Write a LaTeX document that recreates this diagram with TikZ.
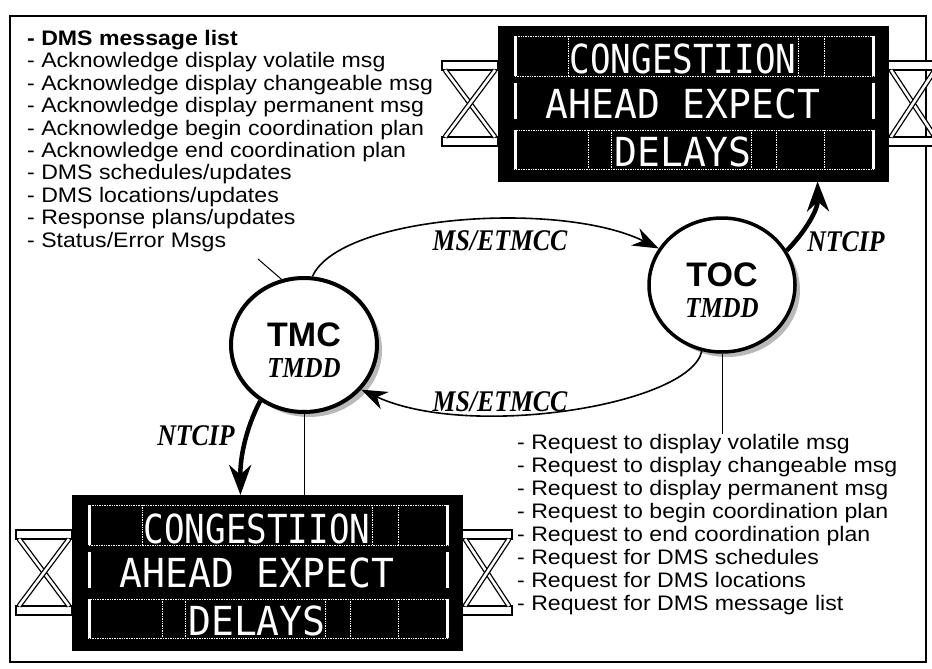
\documentclass[tikz,border=0pt]{standalone}
\usepackage{fontspec}
\setmainfont[FakeStretch=1.1]{Liberation Sans}
\newfontfamily\hubfont{Liberation Sans}
\newfontfamily\tagfont[FakeStretch=0.86]{Liberation Serif}
\newfontfamily\ledfont[FakeStretch=0.95]{DejaVu Sans Mono}
\usetikzlibrary{arrows.meta,shapes.geometric,shadows,positioning}

\tikzset{
  hub/.style={ellipse, draw, fill=white, minimum width=146pt, minimum height=134pt,
    inner sep=0pt, align=center, font=\hubfont\bfseries\fontsize{34}{31}\selectfont,
    drop shadow={shadow xshift=5pt, shadow yshift=-5pt, fill=gray!55, opacity=1}},
  link/.style={line width=1.6pt, -{Stealth[length=26pt,width=19pt]}},
  ntcip/.style={line width=4.5pt, -{Stealth[length=30pt,width=22pt]}},
  tag/.style={inner sep=0pt, font=\tagfont\bfseries\itshape\fontsize{30}{30}\selectfont},
  msglist/.style={anchor=north west, align=left, inner sep=0pt},
  board/.style={fill=black, draw=black, anchor=north west, minimum width=390pt,
    minimum height=155pt, inner sep=0pt},
  rail/.style={draw=black, fill=white, line width=1.2pt},
  truss/.style={line width=1.3pt, double=white, double distance=2.6pt},
  ledline/.style={white, line width=0.7pt, densely dotted},
  ledbar/.style={white, line width=3pt},
  led/.style={text=white, anchor=base, inner sep=0pt, font=\ledfont\fontsize{40}{40}\selectfont},
  pics/dmsboard/.style={code={
    % tralicci laterali
    \foreach \sx/\ex in {-56/0, 390/440} {
      \draw[rail] (\sx,35) rectangle (\ex,44);
      \draw[rail] (\sx,111) rectangle (\ex,120);
      \draw[truss] (\sx+3,44) -- (\ex-3,111);
      \draw[truss] (\sx+3,111) -- (\ex-3,44);
    }
    \node[board] (-board) at (0,0) {};
    % righe del pannello
    \foreach \ya/\yb in {10/50, 57/93, 104/143}
      \draw[ledbar] (17,\ya) -- (17,\yb) (375,\ya) -- (375,\yb);
    \draw[ledline] (16,10) rectangle (376,50);
    \draw[ledline] (16,104) rectangle (376,143);
    \foreach \dx in {70,300,326} \draw[ledline] (\dx,10) -- (\dx,50);
    \foreach \dx in {90,113,253,278,326} \draw[ledline] (\dx,104) -- (\dx,143);
    \node[led] (-row1) at (185,48) {\scalebox{0.9}[1]{CONGESTIION}};
    \node[led] (-row2) at (185,92) {AHEAD EXPECT};
    \node[led] (-row3) at (185,140) {DELAYS};
  }}
}

\begin{document}
\begin{tikzpicture}[x=1pt, y=-1pt]
\useasboundingbox (0,0) rectangle (932,669);
% cornice
\draw[line width=1.5pt] (10,16) rectangle (926,662);
% pannelli a messaggio variabile
\pic (topsign) at (498,26) {dmsboard};
\pic (botsign) at (72,495) {dmsboard};
% centri
\node[hub, line width=4pt] (tmc) at (304,345)
  {\rule{0pt}{34pt}TMC\\{\tagfont\bfseries\itshape\fontsize{29}{31}\selectfont TMDD}};
\node[hub, line width=3.5pt] (toc) at (722,285)
  {\rule{0pt}{34pt}TOC\\{\tagfont\bfseries\itshape\fontsize{29}{31}\selectfont TMDD}};
% elenchi dei messaggi
\node[msglist, font=\fontsize{21}{22.4}\selectfont] (acklist) at (27,30)
  {\textbf{- DMS message list}\\
   - Acknowledge display volatile msg\\
   - Acknowledge display changeable msg\\
   - Acknowledge display permanent msg\\
   - Acknowledge begin coordination plan\\
   - Acknowledge end coordination plan\\
   - DMS schedules/updates\\
   - DMS locations/updates\\
   - Response plans/updates\\
   - Status/Error Msgs};
\node[msglist, font=\fontsize{21}{23}\selectfont] (reqlist) at (517,434)
  {- Request to display volatile msg\\
   - Request to display changeable msg\\
   - Request to display permanent msg\\
   - Request to begin coordination plan\\
   - Request to end coordination plan\\
   - Request for DMS schedules\\
   - Request for DMS locations\\
   - Request for DMS message list};
% collegamenti
\coordinate (errtip) at (258,259);
\draw[line width=1pt] (errtip) -- (tmc.109);
\draw[line width=1pt] (tmc.south) -- (tmc.south |- botsign-board.north);
\draw[line width=1pt] (toc.south) -- (toc.south |- reqlist.north);
\draw[link] (tmc.83) .. controls (340,215) and (560,200) .. (toc.150);
\draw[link] (toc.253) .. controls (690,405) and (470,440) .. (tmc.-38);
\draw[ntcip] (toc.28) .. controls (805,232) and (818,210) .. (topsign-board.-32);
\draw[ntcip] (tmc.232) .. controls (250,420) and (240,450) .. (botsign-board.109);
% etichette
\node[tag] (msup) at (500,241) {MS/ETMCC};
\node[tag] (msdown) at (500,402) {MS/ETMCC};
\node[tag] (ntcipup) at (846,242) {NTCIP};
\node[tag] (ntcipdown) at (196,436) {NTCIP};
\end{tikzpicture}
\end{document}
